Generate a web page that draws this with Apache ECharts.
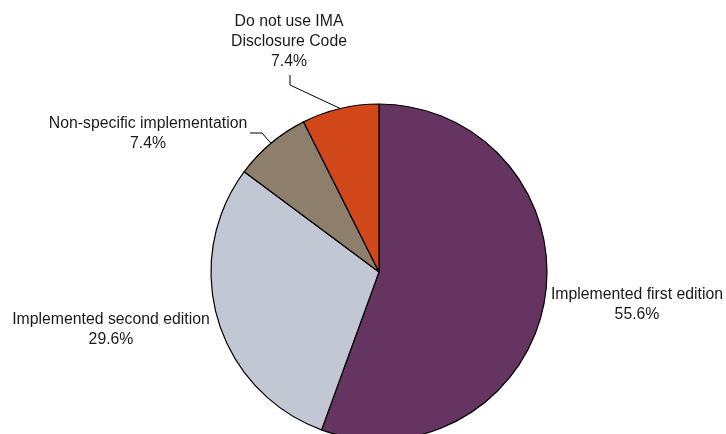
<!DOCTYPE html>
<html>
<head>
<meta charset="utf-8">
<script src="https://cdn.jsdelivr.net/npm/echarts@6/dist/echarts.min.js"></script>
<style>html,body{margin:0;padding:0;background:#fff;}#c{width:726px;height:434px;}</style>
</head>
<body>
<div id="c"></div>
<script>
var categories = ['Implemented first edition', 'Implemented second edition', 'Non-specific implementation', 'Do not use IMA Disclosure Code'];
var labelTexts = ['Implemented first edition', 'Implemented second edition', 'Non-specific implementation', 'Do not use IMA\nDisclosure Code'];
var values = [15, 8, 2, 2];
var colors = ['#653460', '#C1C7D3', '#8D7F6C', '#D1471A'];

// label placement (centre of text block) and leader-line elbows, styling only
var labelPos = [[637, 305], [111, 330], [148, 134], [289, 42]];
var leader = [null, null, [[262, 133], [250, 133]], [[290, 85], [290, 75]]];

var chart = echarts.init(document.getElementById('c'), null, {renderer: 'canvas'});
chart.setOption({
  animation: false,
  series: [{
    type: 'pie',
    center: [379, 272],
    radius: 168,
    startAngle: 90,
    clockwise: true,
    avoidLabelOverlap: false,
    percentPrecision: 1,
    itemStyle: {borderColor: '#000', borderWidth: 1.2},
    label: {
      show: true,
      position: 'outside',
      color: '#1a1a1a',
      fontFamily: 'Liberation Sans, Arial, sans-serif',
      fontSize: 15.8,
      lineHeight: 20,
      align: 'center',
      formatter: function (p) { return labelTexts[p.dataIndex] + '\n' + p.percent.toFixed(1) + '%'; }
    },
    labelLine: {show: true, length: 10, length2: 10, lineStyle: {color: '#000', width: 1}},
    emphasis: {disabled: true},
    labelLayout: function (params) {
      var i = params.dataIndex;
      var res = {x: labelPos[i][0], y: labelPos[i][1], align: 'center', verticalAlign: 'middle'};
      if (leader[i] && params.labelLinePoints) {
        res.labelLinePoints = [params.labelLinePoints[0], leader[i][0], leader[i][1]];
      }
      return res;
    },
    data: categories.map(function (n, i) {
      return {
        name: n,
        value: values[i],
        itemStyle: {color: colors[i]},
        labelLine: {show: !!leader[i]}
      };
    })
  }]
});
</script>
</body>
</html>
